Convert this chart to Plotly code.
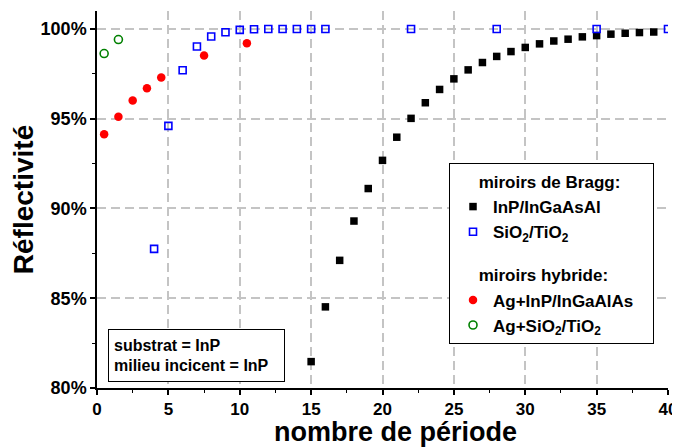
import plotly.graph_objects as go

# nombre de périodes / réflectivité (%)
n_inp_ingaasal = [15, 16, 17, 18, 19, 20, 21, 22, 23, 24, 25, 26, 27,
                  28, 29, 30, 31, 32, 33, 34, 35, 36, 37, 38, 39]
r_inp_ingaasal = [81.47, 84.52, 87.11, 89.30, 91.11, 92.68, 93.97, 95.02, 95.89,
                  96.63, 97.22, 97.72, 98.13, 98.47, 98.74, 98.97, 99.17, 99.33,
                  99.43, 99.56, 99.63, 99.71, 99.76, 99.80, 99.83]

n_sio2_tio2 = [4, 5, 6, 7, 8, 9, 10, 11, 12, 13, 14, 15, 16, 22, 28, 35, 40]
r_sio2_tio2 = [87.75, 94.6, 97.7, 99.02, 99.58, 99.82, 99.95, 99.98, 100,
               100, 100, 100, 100, 100, 100, 100, 100]

n_ag_inp = [0.5, 1.5, 2.5, 3.5, 4.5, 7.5, 10.5]
r_ag_inp = [94.13, 95.11, 96.02, 96.7, 97.3, 98.52, 99.2]

n_ag_sio2 = [0.5, 1.5]
r_ag_sio2 = [98.63, 99.41]

FONT = "Liberation Sans, Arial, sans-serif"
PAD = "\u00a0" * 5  # indent of the legend group titles
TAIL = "\u00a0" * 3  # widens the legend box a bit

fig = go.Figure()

fig.add_trace(go.Scatter(
    x=n_inp_ingaasal, y=r_inp_ingaasal, mode="markers",
    name="InP/InGaAsAl", legendgroup="bragg",
    legendgrouptitle=dict(text=PAD + "miroirs de Bragg:"),
    marker=dict(symbol="square", size=7.5, color="black"),
))
fig.add_trace(go.Scatter(
    x=n_sio2_tio2, y=r_sio2_tio2, mode="markers",
    name="SiO<sub>2</sub>/TiO<sub>2</sub>", legendgroup="bragg",
    marker=dict(symbol="square-open", size=7, color="#0000ff",
                line=dict(width=1.6, color="#0000ff")),
))
fig.add_trace(go.Scatter(
    x=n_ag_inp, y=r_ag_inp, mode="markers",
    name="Ag+InP/InGaAlAs" + TAIL, legendgroup="hybride",
    legendgrouptitle=dict(text=PAD + "miroirs hybride:"),
    marker=dict(symbol="circle", size=8.5, color="#ff0000"),
))
fig.add_trace(go.Scatter(
    x=n_ag_sio2, y=r_ag_sio2, mode="markers",
    name="Ag+SiO<sub>2</sub>/TiO<sub>2</sub>", legendgroup="hybride",
    marker=dict(symbol="circle-open", size=8, color="#008000",
                line=dict(width=1.6, color="#008000")),
))

fig.add_annotation(
    xref="paper", yref="paper", x=0.019, y=0.016,
    xanchor="left", yanchor="bottom", align="left",
    text="substrat = InP<br>milieu incicent = InP",
    showarrow=False, font=dict(size=16, color="black"),
    bordercolor="black", borderwidth=1, borderpad=5, bgcolor="white",
    width=165, height=41,
)

# x axis title, a little right of the centre as in the original
fig.add_annotation(
    xref="paper", yref="paper", x=0.5236, y=-0.117,
    xanchor="center", yanchor="middle", showarrow=False,
    text="nombre de période", font=dict(size=27, color="black"),
)

# the page body has an 8px margin, so the figure is 8px smaller
fig.update_layout(
    width=672, height=439,
    margin=dict(l=89, r=12, t=3, b=59, autoexpand=False),
    paper_bgcolor="white", plot_bgcolor="white",
    font=dict(family=FONT, size=17, color="black", weight="bold"),
    legend=dict(
        x=0.9755, y=0.597, xanchor="right", yanchor="top",
        bordercolor="black", borderwidth=1, bgcolor="white",
        font=dict(size=17), traceorder="grouped", tracegroupgap=18,
        grouptitlefont=dict(size=17), indentation=3,
    ),
    showlegend=True,
)

fig.update_xaxes(
    range=[0, 40], dtick=5, tick0=0, automargin=False,
    showline=True, linecolor="black", linewidth=1.5,
    ticks="outside", ticklen=5, tickwidth=1.5, tickcolor="black",
    showgrid=True, gridcolor="#c4c4c4", gridwidth=2, griddash="9px,5px",
    zeroline=False,
    minor=dict(dtick=2.5, ticks="outside", ticklen=3, tickwidth=1.2,
               tickcolor="black", showgrid=False),
    tickfont=dict(size=17),
)
fig.update_yaxes(
    range=[80, 101], dtick=5, tick0=80, ticksuffix="%", automargin=False,
    showline=True, linecolor="black", linewidth=1.5,
    ticks="outside", ticklen=5, tickwidth=1.5, tickcolor="black",
    showgrid=True, gridcolor="#c4c4c4", gridwidth=2, griddash="9px,5px",
    zeroline=False,
    minor=dict(dtick=2.5, ticks="outside", ticklen=3, tickwidth=1.2,
               tickcolor="black", showgrid=False),
    title=dict(text="Réflectivité", font=dict(size=28), standoff=1),
    tickfont=dict(size=18),
)

fig.write_html("out.html")
